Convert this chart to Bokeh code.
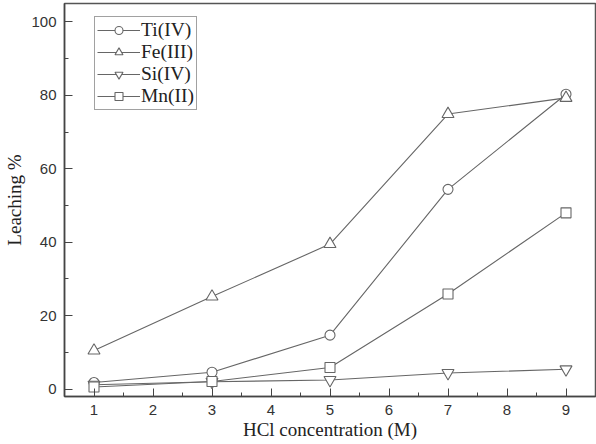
from bokeh.plotting import figure
from bokeh.models import Range1d, FixedTicker, Legend, LegendItem
from bokeh.embed import file_html
from bokeh.resources import INLINE

hcl = [1, 3, 5, 7, 9]
ti = [1.8, 4.6, 14.7, 54.4, 80.3]
fe = [10.5, 25.2, 39.5, 74.9, 79.3]
si = [1.2, 2.0, 2.5, 4.4, 5.4]
mn = [0.6, 2.1, 5.9, 25.9, 48.0]

x_ticks = [1, 2, 3, 4, 5, 6, 7, 8, 9]
x_minor = [1.5, 2.5, 3.5, 4.5, 5.5, 6.5, 7.5, 8.5]
y_ticks = [0, 20, 40, 60, 80, 100]
y_minor = [10, 30, 50, 70, 90]

series = [("Ti(IV)", ti, "circle", 10), ("Fe(III)", fe, "triangle", 12),
          ("Si(IV)", si, "inverted_triangle", 12), ("Mn(II)", mn, "square", 10)]

p = figure(width=596, height=444, output_backend="svg", toolbar_location=None,
           x_range=Range1d(0.5, 9.5), y_range=Range1d(-2, 105),
           min_border_left=64, min_border_right=1, min_border_top=3, min_border_bottom=48)
p.xgrid.visible = False
p.ygrid.visible = False
p.outline_line_color = "#555555"
p.outline_line_width = 1.5
p.background_fill_color = "white"
p.border_fill_color = "white"

line_col = "#666666"
items = []
for name, ys, mk, sz in series:
    r1 = p.line(hcl, ys, line_color=line_col, line_width=1.1)
    r2 = p.scatter(hcl, ys, marker=mk, size=sz, fill_color="white", line_color=line_col, line_width=1.1)
    items.append(LegendItem(label=name, renderers=[r1, r2]))

leg = Legend(items=items, location=(30, 286))
leg.label_text_font = "Liberation Serif"
leg.label_text_font_size = "19.5px"
leg.label_text_color = "#222222"
leg.glyph_width = 43
leg.glyph_height = 20
leg.label_height = 20
leg.spacing = 0
leg.padding = 2
leg.margin = 0
leg.label_standoff = 1
leg.border_line_color = "#444444"
leg.border_line_width = 1
leg.background_fill_alpha = 1
p.add_layout(leg)

for ax in (p.xaxis[0], p.yaxis[0]):
    ax.axis_line_color = "#444444"
    ax.axis_line_width = 1.5
    ax.major_tick_in = 8
    ax.major_tick_out = 0
    ax.minor_tick_in = 4
    ax.minor_tick_out = 0
    ax.major_tick_line_color = "#444444"
    ax.minor_tick_line_color = "#444444"
    ax.major_label_text_font = "Liberation Sans"
    ax.major_label_text_font_size = "15px"
    ax.major_label_text_color = "#333333"
    ax.axis_label_text_font = "Liberation Serif"
    ax.axis_label_text_font_size = "19px"
    ax.axis_label_text_font_style = "normal"
    ax.axis_label_text_color = "#222222"

p.xaxis.ticker = FixedTicker(ticks=x_ticks, minor_ticks=x_minor)
p.yaxis.ticker = FixedTicker(ticks=y_ticks, minor_ticks=y_minor)
p.xaxis.axis_label = "HCl concentration (M)"
p.yaxis.axis_label = "Leaching %"
p.xaxis.major_label_standoff = 8
p.xaxis.axis_label_standoff = 1
p.yaxis.major_label_standoff = 8
p.yaxis.axis_label_standoff = 3

open("out.html", "w").write(file_html(p, INLINE))
